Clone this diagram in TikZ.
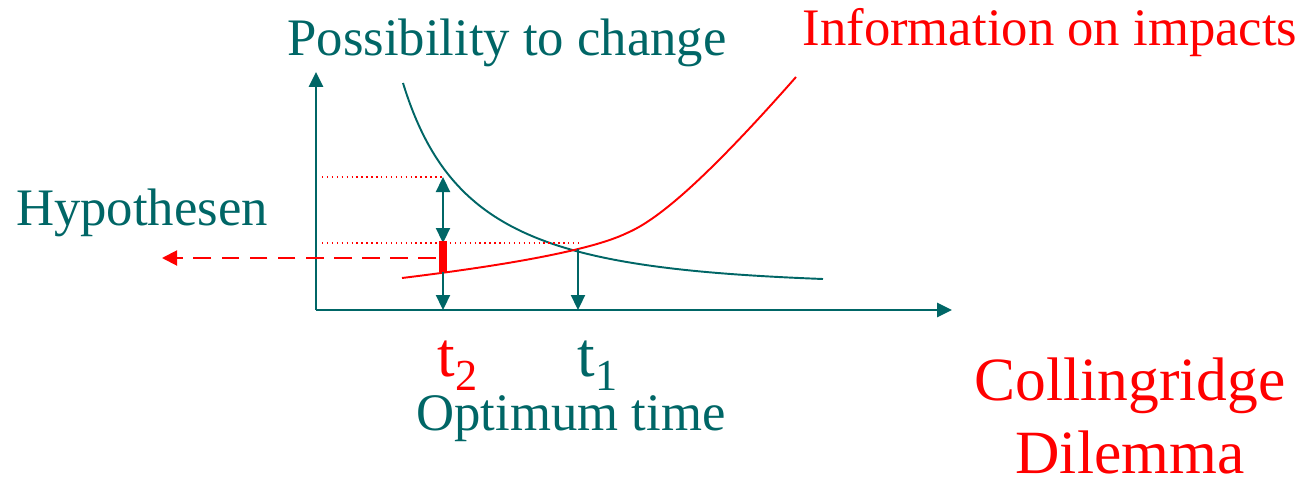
\documentclass[tikz,border=0pt]{standalone}
\usepackage{fontspec}
\setmainfont{Liberation Serif}
\usetikzlibrary{arrows.meta}
\definecolor{teal}{RGB}{0,102,102}
\begin{document}
\begin{tikzpicture}[font=\fontsize{30}{36}\selectfont]
    % Styles
    \tikzstyle{axis}=[teal, line width=1.6pt, -{Triangle[length=0.3cm,width=0.28cm]}]
    \tikzstyle{drop}=[teal, line width=1.3pt, -{Triangle[length=0.3cm,width=0.28cm]}]
    \tikzstyle{guide}=[red, line width=0.8pt, dotted]

    % Bounding box
    \useasboundingbox (0,0) rectangle (26.06,9.72);

    % --- Axes ---
    \coordinate (O) at (6.32,3.52);
    \coordinate (y_top) at (6.32,8.28);
    \coordinate (x_end) at (19.04,3.52);
    \draw[axis] (O) -- (y_top);
    \draw[axis] (O) -- (x_end);

    % --- Curves ---
    % Possibility to change (falling)
    \draw[teal, line width=1.1pt] (8.06,8.06) .. controls (9.0,5.0) and (11.0,4.35) .. (16.46,4.14);
    % Information on impacts (rising)
    \draw[red, line width=1.1pt] (8.04,4.16) .. controls (10.0,4.40) and (11.8,4.70) .. (12.54,5.06)
        .. controls (13.1,5.30) and (14.0,6.0) .. (15.92,8.18);

    % --- Helper coordinates ---
    \coordinate (g_t2) at (8.86,6.18);   % green curve at t2
    \coordinate (h_t2) at (8.86,4.86);   % level of crossing at t2
    \coordinate (bar_top) at (8.86,4.90);
    \coordinate (bar_bot) at (8.86,4.28);
    \coordinate (t2_axis) at (8.86,3.52);
    \coordinate (cross) at (11.56,4.74);
    \coordinate (t1_axis) at (11.56,3.52);
    \coordinate (l_hi) at (6.44,6.18);
    \coordinate (l_lo) at (6.44,4.86);
    \coordinate (r_lo) at (11.62,4.86);
    \coordinate (hyp_from) at (8.72,4.56);
    \coordinate (hyp_to) at (3.24,4.56);

    % Dotted guide lines
    \draw[guide] (l_hi) -- (g_t2);
    \draw[guide] (l_lo) -- (r_lo);

    % Arrows at t2 and t1
    \draw[drop, {Triangle[length=0.3cm,width=0.28cm]}-{Triangle[length=0.3cm,width=0.28cm]}] (g_t2) -- (h_t2);
    \draw[red, line width=4.5pt] (bar_top) -- (bar_bot);
    \draw[drop] (bar_bot) -- (t2_axis);
    \draw[drop] (cross) -- (t1_axis);

    % Hypothesen arrow
    \draw[red, line width=1.1pt, dash pattern=on 10pt off 6pt, -{Triangle[length=0.3cm,width=0.3cm]}] (hyp_from) -- (hyp_to);

    % --- Labels ---
    \node[teal] (poss) at (10.14,8.86) {Possibility to change};
    \node[red] (info) at (21.0,9.06) {Information on impacts};
    \node[teal] (hyp) at (2.84,5.46) {Hypothesen};
    \node[red, inner sep=0pt, font=\fontsize{36}{40}\selectfont] (t2) at (9.16,2.40) {t\textsubscript{2}};
    \node[teal, inner sep=0pt, font=\fontsize{36}{40}\selectfont] (t1) at (11.96,2.40) {t\textsubscript{1}};
    \node[teal, inner sep=0pt] (opt) at (11.42,1.34) {Optimum time};
    \node[red, inner sep=0pt, align=center, font=\fontsize{35}{42}\selectfont] (dilemma) at (22.6,1.40) {Collingridge\\Dilemma};

\end{tikzpicture}
\end{document}
